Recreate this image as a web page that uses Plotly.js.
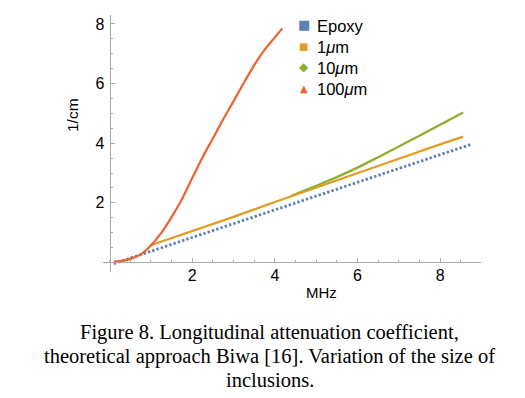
<!DOCTYPE html>
<html>
<head>
<meta charset="utf-8">
<script src="https://cdn.plot.ly/plotly-3.0.1.min.js"></script>
<style>html,body{margin:0;padding:0;background:#fff;}#chart{width:525px;height:398px;}</style>
</head>
<body>
<div id="chart"></div>
<script>
// Data
const epoxyX = [0.1, 2, 4, 6, 8.77];
const epoxyY = [-0.04, 0.84, 1.77, 2.69, 3.97];

const um1X = [0.98, 2, 3, 4, 5, 6, 7, 8, 8.56];
const um1Y = [0.57, 1.05, 1.53, 2.03, 2.52, 3.0, 3.48, 3.96, 4.22];

const um10X = [4.4, 5, 5.5, 6, 6.5, 7, 7.5, 8, 8.56];
const um10Y = [2.23, 2.57, 2.86, 3.18, 3.53, 3.89, 4.25, 4.62, 5.03];

const um100X = [0.1, 0.3, 0.5, 0.75, 1.0, 1.25, 1.5, 1.75, 2.0, 2.25, 2.5, 2.75, 3.0, 3.25, 3.5, 3.75, 4.0, 4.18];
const um100Y = [0.02, 0.06, 0.12, 0.27, 0.57, 0.99, 1.52, 2.12, 2.83, 3.53, 4.16, 4.8, 5.41, 6.03, 6.62, 7.13, 7.55, 7.85];

const seriesNames = ['Epoxy', '1<i>μ</i>m', '10<i>μ</i>m', '100<i>μ</i>m'];
const seriesColors = ['#5E81B5', '#E19C24', '#8FB032', '#EB6235'];
const seriesSymbols = ['■', '■', '◆', '▲'];
const xTicks = [2, 4, 6, 8];
const yTicks = [2, 4, 6, 8];
const xTitle = 'MHz';
const yTitle = '1/cm';
const captionLines = [
  'Figure 8. Longitudinal attenuation coefficient,',
  'theoretical approach Biwa [16]. Variation of the size of',
  'inclusions.'
];

// layout helpers (pixel -> paper)
const L = 103, R = 481, T = 15, B = 272;
const px = p => (p - L) / (R - L);
const py = p => (B - p) / (B - T);

const traces = [
  {x: epoxyX, y: epoxyY, mode: 'lines', line: {color: seriesColors[0], width: 2.8, dash: '2.4px,2.1px'}, showlegend: false, hoverinfo: 'skip'},
  {x: um1X, y: um1Y, mode: 'lines', line: {color: seriesColors[1], width: 2.2}, showlegend: false, hoverinfo: 'skip'},
  {x: um10X, y: um10Y, mode: 'lines', line: {color: seriesColors[2], width: 2.4, shape: 'spline'}, showlegend: false, hoverinfo: 'skip'},
  {x: um100X, y: um100Y, mode: 'lines', line: {color: seriesColors[3], width: 2.2, shape: 'spline', smoothing: 0.6}, showlegend: false, hoverinfo: 'skip'}
];
// keep orange on top of green where they coincide
const ordered = [traces[0], traces[2], traces[1], traces[3]];

const axisColor = '#ababab';
const tickFont = {family: 'Liberation Sans, Arial, sans-serif', size: 16, color: '#000'};

const annotations = [];
const legendRows = [25, 46, 67, 88];
const symSizes = [13, 10, 12, 10];
for (let i = 0; i < seriesNames.length; i++) {
  annotations.push({xref: 'paper', yref: 'paper', x: px(303.5), y: py(legendRows[i]), text: seriesSymbols[i],
    showarrow: false, xanchor: 'center', yanchor: 'middle',
    font: {family: 'DejaVu Sans', size: symSizes[i], color: seriesColors[i]}});
  annotations.push({xref: 'paper', yref: 'paper', x: px(315), y: py(legendRows[i] + 1), text: seriesNames[i],
    showarrow: false, xanchor: 'left', yanchor: 'middle',
    font: {family: 'Liberation Sans, Arial, sans-serif', size: 16.5, color: '#000'}});
}
annotations.push({xref: 'paper', yref: 'paper', x: px(321), y: py(292), text: xTitle, showarrow: false,
  xanchor: 'center', yanchor: 'middle', font: {family: 'Liberation Sans, Arial, sans-serif', size: 15, color: '#000'}});
annotations.push({xref: 'paper', yref: 'paper', x: px(73), y: py(115), text: yTitle, showarrow: false, textangle: -90,
  xanchor: 'center', yanchor: 'middle', font: {family: 'Liberation Sans, Arial, sans-serif', size: 15.5, color: '#000'}});
const captionRows = [332, 356.5, 380];
for (let i = 0; i < captionLines.length; i++) {
  annotations.push({xref: 'paper', yref: 'paper', x: px(269.5), y: py(captionRows[i]), text: captionLines[i], showarrow: false,
    xanchor: 'center', yanchor: 'middle', align: 'center',
    font: {family: 'Liberation Serif, Times New Roman, serif', size: 20.5, color: '#000'}});
}

const xr = [-0.16, 8.99], yr = [-0.32, 8.30];
const layout = {
  width: 525, height: 398,
  margin: {l: L, r: 525 - R, t: T, b: 398 - B, pad: 0},
  paper_bgcolor: '#fff', plot_bgcolor: '#fff',
  showlegend: false,
  xaxis: {range: xr, anchor: 'free', position: (0 - yr[0]) / (yr[1] - yr[0]),
    showline: true, linecolor: axisColor, linewidth: 1, zeroline: false, showgrid: false,
    tickmode: 'array', tickvals: xTicks, ticks: 'inside', ticklen: 4, tickcolor: axisColor, tickwidth: 1,
    minor: {tick0: 0, dtick: 0.5, ticks: 'inside', ticklen: 2, tickcolor: axisColor, showgrid: false},
    tickfont: tickFont, ticklabelstandoff: -2},
  yaxis: {range: yr, anchor: 'free', position: (0 - xr[0]) / (xr[1] - xr[0]),
    showline: true, linecolor: axisColor, linewidth: 1, zeroline: false, showgrid: false,
    tickmode: 'array', tickvals: yTicks, ticks: 'inside', ticklen: 4, tickcolor: axisColor, tickwidth: 1,
    minor: {tick0: 0, dtick: 0.5, ticks: 'inside', ticklen: 2, tickcolor: axisColor, showgrid: false},
    tickfont: tickFont, ticklabelstandoff: 2},
  annotations: annotations
};

Plotly.newPlot('chart', ordered, layout, {staticPlot: true, displayModeBar: false});
</script>
</body>
</html>
